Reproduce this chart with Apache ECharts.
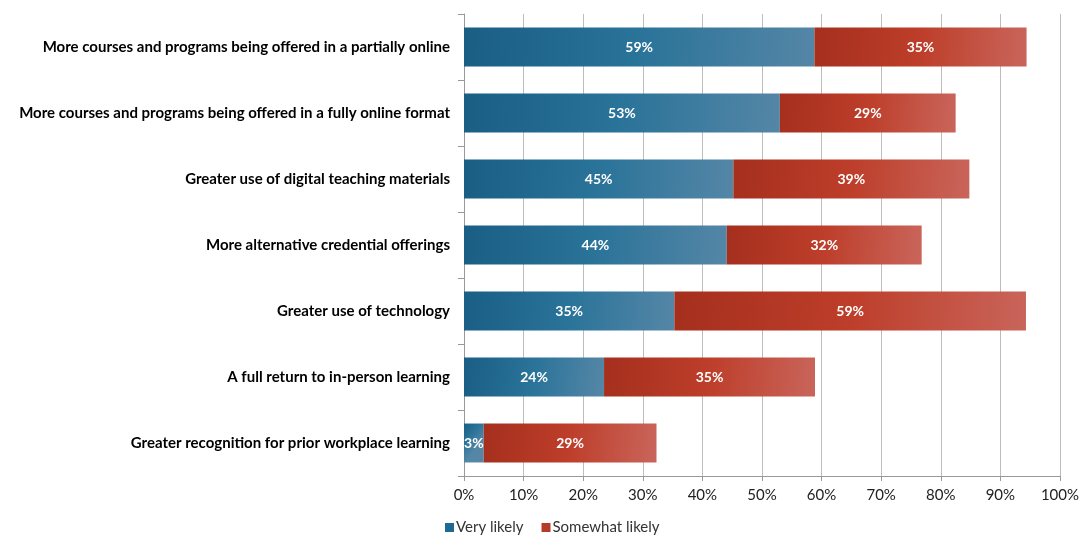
<!DOCTYPE html>
<html><head><meta charset="utf-8">
<script src="https://cdn.jsdelivr.net/npm/echarts@6/dist/echarts.min.js"></script>
<style>html,body{margin:0;padding:0;background:#fff}#c{width:1082px;height:538px}</style>
</head><body><div id="c"></div>
<script>
const categories = [
  "More courses and programs being offered in a partially online",
  "More courses and programs being offered in a fully online format",
  "Greater use of digital teaching materials",
  "More alternative credential offerings",
  "Greater use of technology",
  "A full return to in-person learning",
  "Greater recognition for prior workplace learning"
];
const veryLikely = [58.8, 53.0, 45.2, 44.1, 35.3, 23.5, 3.3];
const somewhatLikely = [35.6, 29.5, 39.6, 32.7, 59.0, 35.4, 29.0];
const veryLabels = ["59%", "53%", "45%", "44%", "35%", "24%", "3%"];
const somewhatLabels = ["35%", "29%", "39%", "32%", "59%", "35%", "29%"];
const xTicks = [0,10,20,30,40,50,60,70,80,90,100];

const chart = echarts.init(document.getElementById('c'), null, {renderer:'canvas'});
const G = echarts.graphic.LinearGradient;
const blueGrad = new G(0,0,1,0.4,[{offset:0,color:'#1a5e84'},{offset:0.5,color:'#2a7399'},{offset:1,color:'#5486a6'}]);
const redGrad = new G(0,0,1,0.4,[{offset:0,color:'#a52f1d'},{offset:0.5,color:'#bd3e2a'},{offset:1,color:'#c9645a'}]);
const font = 'Lato, "Open Sans", sans-serif';

chart.setOption({
  animation:false,
  grid:{left:464,right:19,top:14,bottom:62,containLabel:false},
  legend:{
    left:440, top:515, itemWidth:9, itemHeight:9, itemGap:18,
    icon:'rect',
    textStyle:{fontFamily:font,fontSize:15,color:'#333',padding:[0,0,0,-3]},
    data:[{name:'Very likely',itemStyle:{color:'#1f6a90'}},{name:'Somewhat likely',itemStyle:{color:'#b53a28'}}]
  },
  xAxis:{
    type:'value', min:0, max:100, interval:10,
    axisLabel:{formatter:v=>v+'%',fontFamily:font,fontSize:15,color:'#222',margin:12},
    axisLine:{show:true,lineStyle:{color:'#999'}},
    axisTick:{show:true,length:5,lineStyle:{color:'#999'}},
    splitLine:{show:true,lineStyle:{color:'#bdbdbd',width:1}}
  },
  yAxis:{
    type:'category', data:categories, inverse:true,
    axisLabel:{fontFamily:font,fontSize:15,fontWeight:'bold',color:'#000',margin:14},
    axisLine:{show:true,lineStyle:{color:'#999'}},
    axisTick:{show:true,length:6,alignWithLabel:false,lineStyle:{color:'#999'}}
  },
  series:[
    {name:'Very likely',type:'bar',stack:'a',data:veryLikely,barCategoryGap:'41%',
     itemStyle:{color:blueGrad},
     label:{show:true,position:'inside',color:'#fff',fontFamily:font,fontSize:14,fontWeight:'bold',
       formatter:p=>veryLabels[p.dataIndex]}},
    {name:'Somewhat likely',type:'bar',stack:'a',data:somewhatLikely,barCategoryGap:'41%',
     itemStyle:{color:redGrad},
     label:{show:true,position:'inside',color:'#fff',fontFamily:font,fontSize:14,fontWeight:'bold',
       formatter:p=>somewhatLabels[p.dataIndex]}}
  ]
});
</script></body></html>
